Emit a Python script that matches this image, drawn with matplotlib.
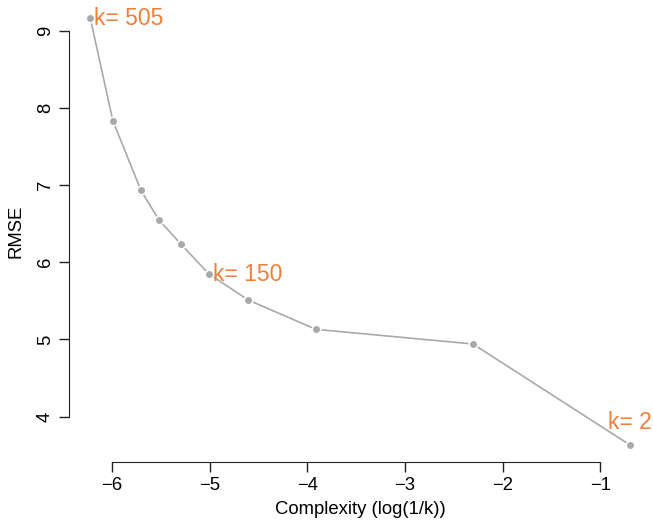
"""
RMSE against model complexity for kNN regression
"""

import numpy as np
import matplotlib.pyplot as plt

plt.rcParams['font.family'] = ['Liberation Sans', 'DejaVu Sans']

k_values = np.array([505, 400, 300, 250, 200, 150, 100, 50, 10, 2])
rmse = np.array([9.17, 7.83, 6.93, 6.55, 6.24, 5.85, 5.51, 5.13, 4.94, 3.63])
labelled_k = [505, 150, 2]

complexity = np.log(1 / k_values)

fig = plt.figure(figsize=(6.53, 5.24), dpi=100)
ax = fig.add_axes([0.105, 0.118, 0.893, 0.881])

grey = '#a9a9a9'
orange = '#f07f3b'
ax.plot(complexity, rmse, color=grey, lw=1.2, zorder=1)
ax.plot(complexity, rmse, 'o', color=grey, ms=5, mec='white', mew=2.2, zorder=2)
ax.plot(complexity, rmse, 'o', color=grey, ms=5, mew=0, zorder=3)

for k in labelled_k:
    i = list(k_values).index(k)
    if k == 2:
        ax.annotate('k= ' + str(k), (complexity[i], rmse[i]), xytext=(0, 8),
                    textcoords='offset points', ha='center', va='bottom',
                    color=orange, fontsize=16.5)
    else:
        ax.annotate('k= ' + str(k), (complexity[i], rmse[i]), xytext=(3, -0.5),
                    textcoords='offset points', ha='left', va='center',
                    color=orange, fontsize=16.5)

# R style axes: margins of 4 percent, spines only over the ticks
xr = complexity.max() - complexity.min()
yr = rmse.max() - rmse.min()
ax.set_xlim(complexity.min() - 0.04 * xr, complexity.max() + 0.04 * xr)
ax.set_ylim(rmse.min() - 0.04 * yr, rmse.max() + 0.04 * yr)
ax.set_xticks(np.arange(-6, 0))
ax.set_yticks(np.arange(4, 10))
ax.spines['top'].set_visible(False)
ax.spines['right'].set_visible(False)
ax.spines['bottom'].set_bounds(-6, -1)
ax.spines['left'].set_bounds(4, 9)
ax.spines['left'].set_color('#222222')
ax.spines['bottom'].set_color('#222222')
ax.tick_params(length=7, labelsize=13.3, width=1, color='#222222')
ax.tick_params(axis='y', labelrotation=90)
for lab in ax.get_yticklabels():
    lab.set_va('center')

ax.set_xlabel('Complexity (log(1/k))', fontsize=13.3, labelpad=5)
ax.set_ylabel('RMSE', fontsize=13.3, labelpad=9)

fig.savefig('out.png', dpi=100)
